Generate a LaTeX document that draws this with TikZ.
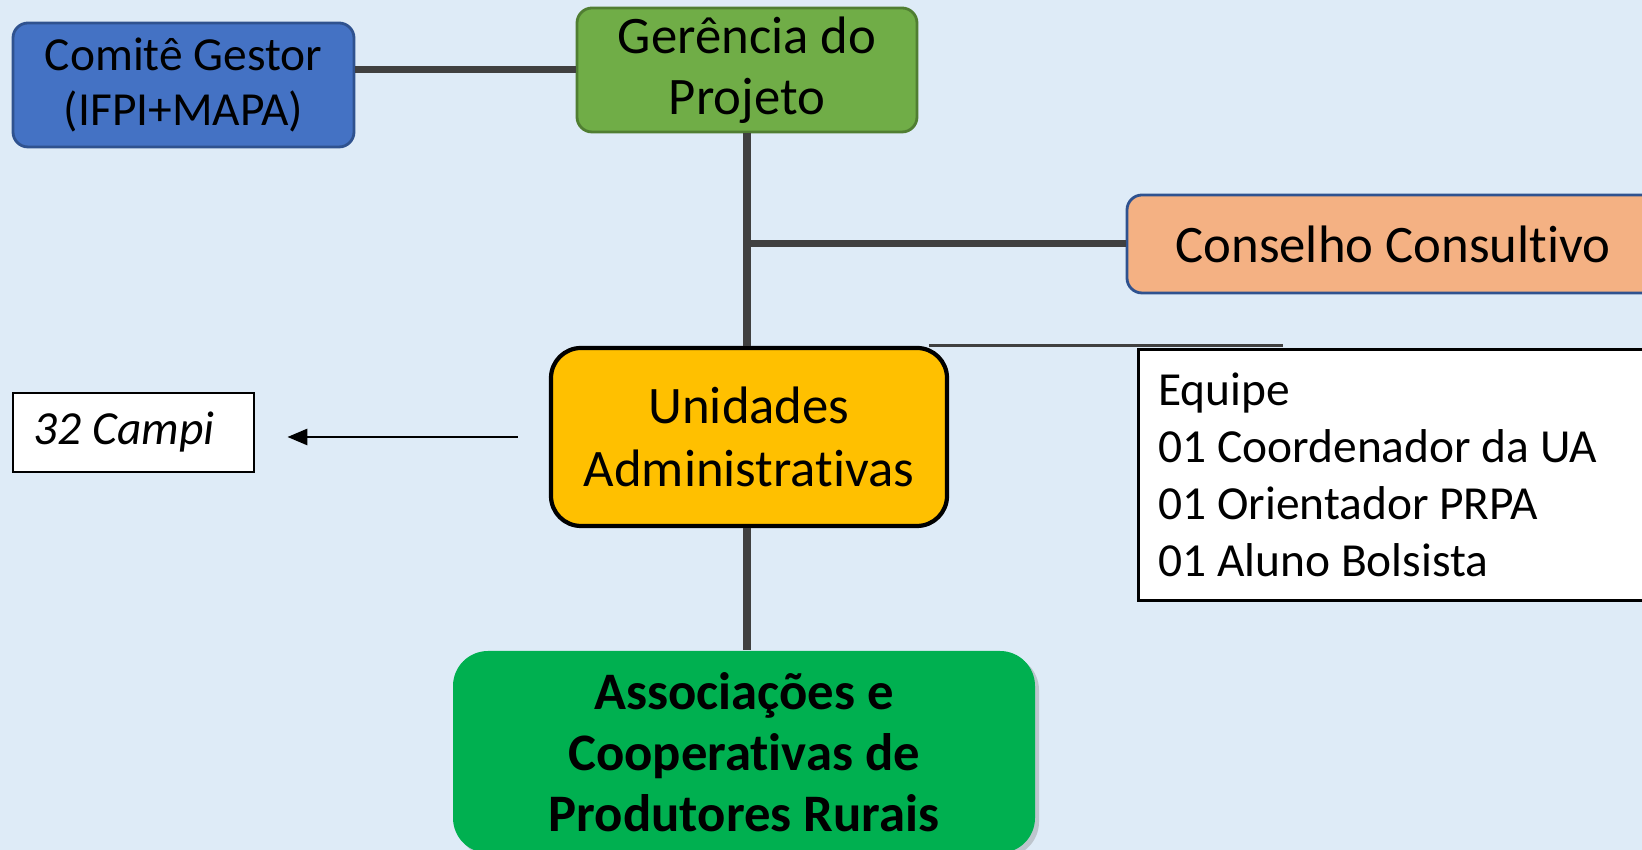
\documentclass[tikz,border=0pt]{standalone}
\usepackage{fontspec}
\setmainfont{Carlito}[RawFeature={-liga;-clig;-calt;-dlig}]
\usetikzlibrary{shadows,arrows.meta}
\definecolor{fundo}{RGB}{222,235,247}
\definecolor{azul}{RGB}{68,114,196}
\definecolor{azulborda}{RGB}{47,82,143}
\definecolor{verde}{RGB}{112,173,71}
\definecolor{verdeborda}{RGB}{80,126,50}
\definecolor{laranja}{RGB}{244,177,131}
\definecolor{amarelo}{RGB}{255,192,0}
\definecolor{verdeforte}{RGB}{0,176,80}
\definecolor{linhacor}{RGB}{64,64,64}
\begin{document}
\begin{tikzpicture}[
  caixa/.style={rounded corners=0.15cm, align=center, inner sep=0pt,
    font=\fontsize{15}{17.4}\selectfont},
  texto/.style={font=\fontsize{13.5}{15.4}\selectfont},
  linha/.style={color=linhacor, line width=2pt},
]
\useasboundingbox (0,0) rectangle (16.42,-8.5);
\fill[fundo] (0,0) rectangle (16.42,-8.5);
\clip (0,0) rectangle (16.42,-8.5);
% caixas
\node[caixa, texto, fill=azul, draw=azulborda, thick, minimum width=3.41cm, minimum height=1.24cm] (comite) at (1.835,-0.85) {Comitê Gestor\\(IFPI+MAPA)};
\node[caixa, fill=verde, draw=verdeborda, thick, minimum width=3.40cm, minimum height=1.24cm] (gerencia) at (7.47,-0.70) {Gerência do\\Projeto};
\node[caixa, fill=laranja, draw=azulborda, thick, minimum width=5.32cm, minimum height=0.98cm] (conselho) at (13.93,-2.44) {Conselho Consultivo};
\node[caixa, rounded corners=0.3cm, fill=amarelo, draw=black, line width=1.2pt, minimum width=3.96cm, minimum height=1.78cm, font=\fontsize{15}{17.9}\selectfont] (unidades) at (7.49,-4.37) {Unidades\\Administrativas};
\node[caixa, rounded corners=0.35cm, fill=verdeforte, drop shadow={opacity=0.35,shadow xshift=0.04cm,shadow yshift=-0.04cm}, minimum width=5.82cm, minimum height=2.02cm, font=\bfseries\fontsize{15}{17.4}\selectfont] (assoc) at (7.44,-7.52) {Associações e\\Cooperativas de\\Produtores Rurais};
\node[texto, draw=black, thick, fill=white, anchor=north west, text width=4.9cm, minimum height=2.51cm, inner xsep=0.2cm, inner ysep=0pt, align=flush left, font=\fontsize{13.5}{16.2}\selectfont] (equipe) at (11.37,-3.48) {Equipe\\01 Coordenador da UA\\01 Orientador PRPA\\01 Aluno Bolsista};
\node[texto, draw=black, thick, fill=white, minimum width=2.41cm, minimum height=0.79cm, text width=2.0cm, inner xsep=0.2cm, align=flush left, font=\itshape\fontsize{13.5}{15.4}\selectfont] (campi) at (1.335,-4.325) {32 Campi};
% ligacoes
\coordinate (ini) at ([xshift=-0.2cm]unidades.north east);
\coordinate (fim) at ([xshift=1.46cm]equipe.north west);
\draw[linha] (comite.east |- gerencia.west) -- (gerencia.west);
\draw[linha] (gerencia.south) -- (gerencia.south |- unidades.north);
\draw[linha] (gerencia.south |- conselho.west) -- (conselho.west);
\draw[linha] (gerencia.south |- unidades.south) -- (gerencia.south |- assoc.north);
\draw[color=linhacor, thick] (ini) -- (ini -| fim);
\draw[-{Triangle[length=0.2cm,width=0.16cm]}, thick] ([xshift=-0.31cm]unidades.west) -- ([xshift=0.32cm]campi.east |- unidades.west);
\end{tikzpicture}
\end{document}
